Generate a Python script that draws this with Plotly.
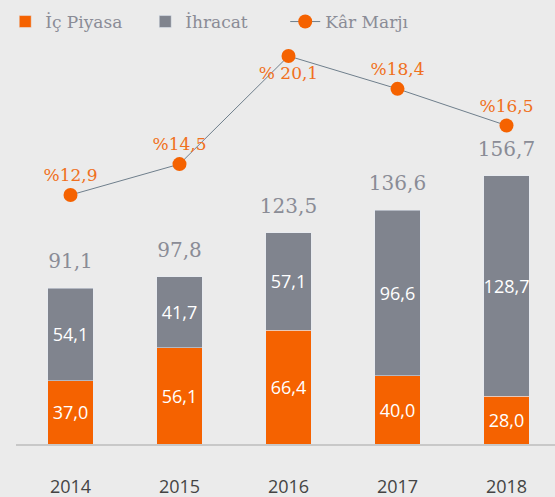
import plotly.graph_objects as go

years = ["2014", "2015", "2016", "2017", "2018"]
ic_piyasa = [37.0, 56.1, 66.4, 40.0, 28.0]
ihracat = [54.1, 41.7, 57.1, 96.6, 128.7]
toplam = [91.1, 97.8, 123.5, 136.6, 156.7]
kar_marji = [12.9, 14.5, 20.1, 18.4, 16.5]
kar_labels = ["%12,9", "%14,5", "% 20,1", "%18,4", "%16,5"]

def tr(v):
    return f"{v:.1f}".replace(".", ",")

x = list(range(len(years)))
orange = "#f56200"
grey = "#80848e"
serif = "DejaVu Serif"
sans = "Open Sans"

fig = go.Figure()

fig.add_trace(go.Bar(
    x=x, y=ic_piyasa, name="İç Piyasa",
    marker_color=orange, width=0.42,
    text=[tr(v) for v in ic_piyasa], textposition="inside",
    insidetextanchor="middle", textangle=0, constraintext="none",
    textfont=dict(family=sans, size=18, color="white"),
))
fig.add_trace(go.Bar(
    x=x, y=ihracat, name="İhracat",
    marker_color=grey, width=0.42,
    text=[tr(v) for v in ihracat], textposition="inside",
    insidetextanchor="middle", textangle=0, constraintext="none",
    textfont=dict(family=sans, size=18, color="white"),
))
# totals above bars
fig.add_trace(go.Scatter(
    x=x, y=toplam, mode="markers+text", showlegend=False,
    marker=dict(size=22, opacity=0),
    text=[tr(v) for v in toplam], textposition="top center",
    textfont=dict(family=serif, size=20, color="#8a8c96"),
    cliponaxis=False, hoverinfo="skip",
))
fig.add_trace(go.Scatter(
    x=x, y=kar_marji, name="Kâr Marjı", yaxis="y2",
    mode="lines+markers+text",
    line=dict(color="#6f7f8c", width=1),
    marker=dict(color=orange, size=14),
    text=kar_labels,
    textposition=["top center", "top center", "bottom center", "top center", "top center"],
    textfont=dict(family=serif, size=17, color="#f07020"),
    cliponaxis=False,
))

fig.update_layout(
    barmode="stack",
    width=555, height=497,
    margin=dict(l=16, r=0, t=40, b=53),
    paper_bgcolor="#ebebeb",
    plot_bgcolor="#ebebeb",
    showlegend=True,
    legend=dict(
        orientation="h", x=-0.02, y=1.0, yanchor="bottom", xanchor="left",
        font=dict(family=serif, size=17, color="#8a8c96"),
        bgcolor="rgba(0,0,0,0)",
        traceorder="normal",
        entrywidth=95, entrywidthmode="pixels",
    ),
    xaxis=dict(
        range=[-0.5, 4.445],
        tickvals=x, ticktext=years,
        showgrid=False, zeroline=False,
        showline=True, linecolor="#c8c8c8", linewidth=2,
        ticks="", ticklabelstandoff=25, automargin=False,
        tickfont=dict(family=sans, size=18, color="#444444"),
    ),
    yaxis=dict(
        range=[0, 236], visible=False, showgrid=False, zeroline=False,
    ),
    yaxis2=dict(
        range=[0, 20.93], overlaying="y", visible=False,
        showgrid=False, zeroline=False,
    ),
)

fig.write_html(
    "out.html",
    config={"displayModeBar": False},
    post_script="document.body.style.margin='0';document.body.style.backgroundColor='#ebebeb';document.body.style.overflow='hidden';",
)
